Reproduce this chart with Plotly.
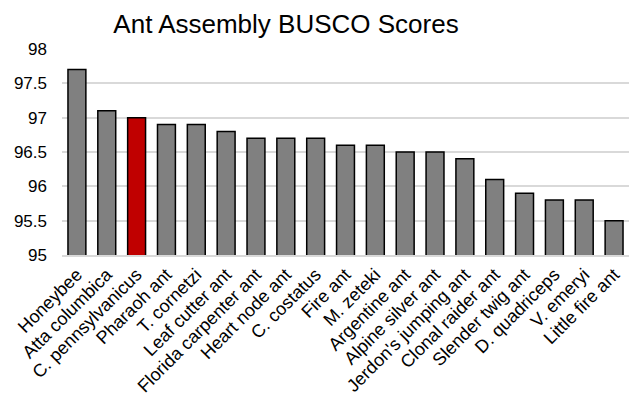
import plotly.graph_objects as go

# Assembly names and their BUSCO completeness scores (%)
species = [
    "Honeybee", "Atta columbica", "C. pennsylvanicus", "Pharaoh ant",
    "T. cornetzi", "Leaf cutter ant", "Florida carpenter ant", "Heart node ant",
    "C. costatus", "Fire ant", "M. zeteki", "Argentine ant",
    "Alpine silver ant", "Jerdon's jumping ant", "Clonal raider ant",
    "Slender twig ant", "D. quadriceps", "V. emeryi", "Little fire ant",
]
busco = [
    97.7, 97.1, 97.0, 96.9,
    96.9, 96.8, 96.7, 96.7,
    96.7, 96.6, 96.6, 96.5,
    96.5, 96.4, 96.1,
    95.9, 95.8, 95.8, 95.5,
]
highlight = "C. pennsylvanicus"

colors = ["#c00000" if s == highlight else "#808080" for s in species]

fig = go.Figure(
    go.Bar(
        x=species,
        y=busco,
        width=0.6,
        marker=dict(color=colors, line=dict(color="#000000", width=1.5)),
    )
)

font_family = "Liberation Sans, Arial, sans-serif"

fig.update_layout(
    width=629,
    height=402,
    margin=dict(l=62, r=0, t=49, b=147),
    paper_bgcolor="white",
    plot_bgcolor="white",
    showlegend=False,
    font=dict(family=font_family, size=17, color="#000000"),
    title=dict(
        text="Ant Assembly BUSCO Scores",
        font=dict(family=font_family, size=26, color="#000000"),
        x=286 / 629,
        xref="container",
        xanchor="center",
        y=1 - 24 / 402,
        yref="container",
        yanchor="middle",
    ),
    xaxis=dict(
        tickangle=-45,
        showgrid=False,
        showline=True,
        linecolor="#d9d9d9",
        linewidth=2,
        ticks="",
        tickfont=dict(size=18),
    ),
    yaxis=dict(
        range=[95, 98],
        dtick=0.5,
        tick0=95,
        showgrid=True,
        gridcolor="#d9d9d9",
        gridwidth=1.5,
        zeroline=False,
        showline=False,
        ticks="",
        ticklabelstandoff=14,
        tickfont=dict(size=17),
    ),
)

fig.write_html("out.html")
